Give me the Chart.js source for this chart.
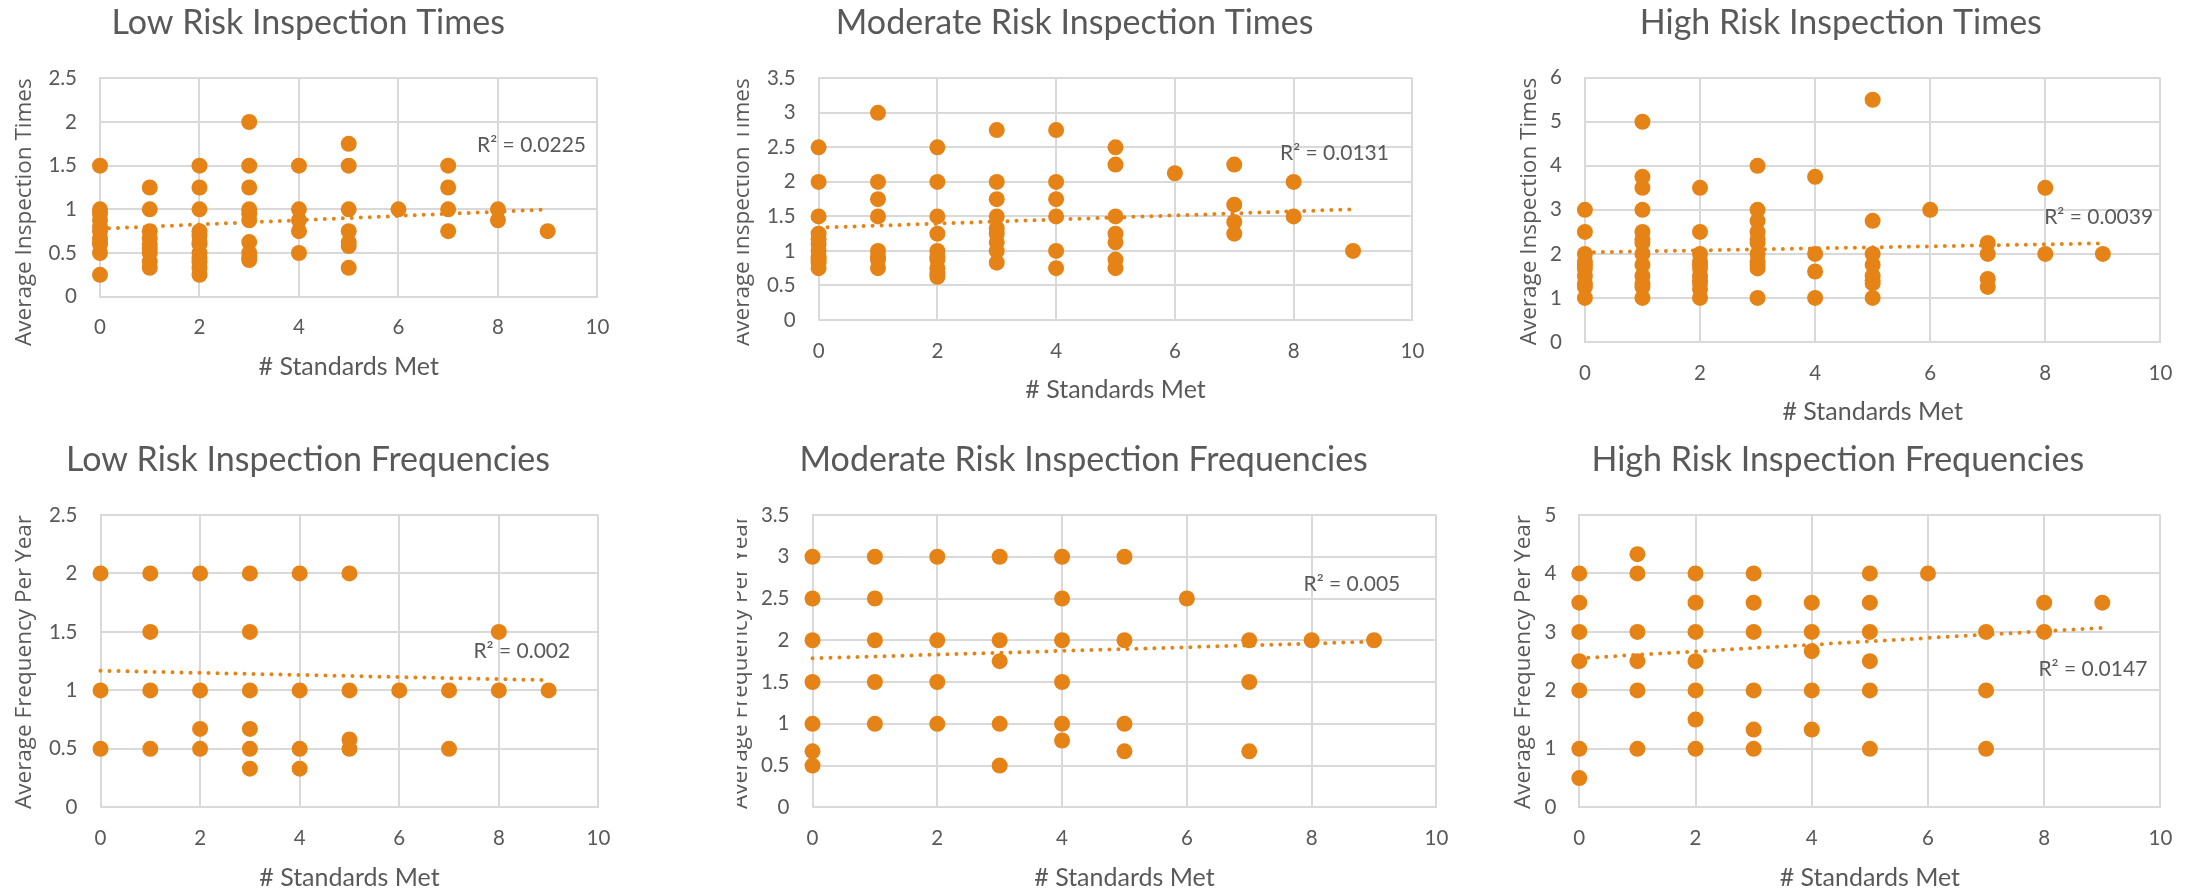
<!DOCTYPE html>
<html><head><meta charset="utf-8">
<script src="https://cdn.jsdelivr.net/npm/chart.js@4.4.1/dist/chart.umd.min.js"></script>
<style>
html,body{margin:0;padding:0;background:#fff;width:2211px;height:890px;overflow:hidden;}
.panel{position:absolute;overflow:hidden;}
.panel canvas{position:absolute;}
</style></head><body>
<script>
// ---------- DATA ----------
const standardsMet = [0, 1, 2, 3, 4, 5, 6, 7, 8, 9];
const trendX = [0, 9];

// values per column, index = # standards met
const lowRiskTimes = [
  [1.5, 1.0, 0.95, 0.875, 0.8, 0.75, 0.67, 0.625, 0.6, 0.5, 0.25],
  [1.25, 1.0, 0.75, 0.67, 0.6, 0.55, 0.5, 0.4, 0.33],
  [1.5, 1.25, 1.0, 0.75, 0.7, 0.625, 0.6, 0.5, 0.45, 0.4, 0.33, 0.25],
  [2.0, 1.5, 1.25, 1.0, 0.95, 0.875, 0.625, 0.5, 0.45, 0.42],
  [1.5, 1.0, 0.875, 0.75, 0.5],
  [1.75, 1.5, 1.0, 0.75, 0.625, 0.58, 0.33],
  [1.0],
  [1.5, 1.25, 1.0, 0.75],
  [1.0, 0.875],
  [0.75]
];
const moderateRiskTimes = [
  [2.5, 2.0, 1.5, 1.25, 1.17, 1.1, 1.0, 0.92, 0.875, 0.83, 0.75],
  [3.0, 2.0, 1.75, 1.5, 1.0, 0.92, 0.875, 0.75],
  [2.5, 2.0, 1.5, 1.25, 1.0, 0.92, 0.875, 0.75, 0.67, 0.625],
  [2.75, 2.0, 1.75, 1.5, 1.33, 1.25, 1.125, 1.0, 0.83],
  [2.75, 2.0, 1.75, 1.5, 1.0, 0.75],
  [2.5, 2.25, 1.5, 1.25, 1.125, 0.875, 0.75],
  [2.125],
  [2.25, 1.67, 1.42, 1.25],
  [2.0, 1.5],
  [1.0]
];
const highRiskTimes = [
  [3.0, 2.5, 2.0, 1.83, 1.75, 1.67, 1.5, 1.33, 1.25, 1.0],
  [5.0, 3.75, 3.5, 3.0, 2.5, 2.33, 2.25, 2.0, 1.75, 1.5, 1.33, 1.25, 1.0],
  [3.5, 2.5, 2.0, 1.83, 1.75, 1.67, 1.5, 1.4, 1.33, 1.2, 1.0],
  [4.0, 3.0, 2.75, 2.5, 2.33, 2.25, 2.0, 1.83, 1.75, 1.67, 1.0],
  [3.75, 2.0, 1.6, 1.0],
  [5.5, 2.75, 2.0, 1.75, 1.5, 1.4, 1.33, 1.0],
  [3.0],
  [2.25, 2.0, 1.43, 1.25],
  [3.5, 2.0],
  [2.0]
];
const lowRiskFrequencies = [
  [2.0, 1.0, 0.5],
  [2.0, 1.5, 1.0, 0.5],
  [2.0, 1.0, 0.67, 0.5],
  [2.0, 1.5, 1.0, 0.67, 0.5, 0.33],
  [2.0, 1.0, 0.5, 0.33],
  [2.0, 1.0, 0.58, 0.5],
  [1.0],
  [1.0, 0.5],
  [1.5, 1.0],
  [1.0]
];
const moderateRiskFrequencies = [
  [3.0, 2.5, 2.0, 1.5, 1.0, 0.67, 0.5],
  [3.0, 2.5, 2.0, 1.5, 1.0],
  [3.0, 2.0, 1.5, 1.0],
  [3.0, 2.0, 1.75, 1.0, 0.5],
  [3.0, 2.5, 2.0, 1.5, 1.0, 0.8],
  [3.0, 2.0, 1.0, 0.67],
  [2.5],
  [2.0, 1.5, 0.67],
  [2.0],
  [2.0]
];
const highRiskFrequencies = [
  [4.0, 3.5, 3.0, 2.5, 2.0, 1.0, 0.5],
  [4.33, 4.0, 3.0, 2.5, 2.0, 1.0],
  [4.0, 3.5, 3.0, 2.5, 2.0, 1.5, 1.0],
  [4.0, 3.5, 3.0, 2.0, 1.33, 1.0],
  [3.5, 3.0, 2.67, 2.0, 1.33],
  [4.0, 3.5, 3.0, 2.5, 2.0, 1.0],
  [4.0],
  [3.0, 2.0, 1.0],
  [3.5, 3.0],
  [3.5]
];

// linear trend line values at x = 0 and x = 9
const lowRiskTimesTrend = [0.778, 0.998];
const moderateRiskTimesTrend = [1.337, 1.603];
const highRiskTimesTrend = [2.035, 2.24];
const lowRiskFrequenciesTrend = [1.168, 1.087];
const moderateRiskFrequenciesTrend = [1.784, 1.983];
const highRiskFrequenciesTrend = [2.55, 3.07];

const r2Texts = ['R² = 0.0225', 'R² = 0.0131', 'R² = 0.0039', 'R² = 0.002', 'R² = 0.005', 'R² = 0.0147'];
const chartTitles = ['Low Risk Inspection Times', 'Moderate Risk Inspection Times', 'High Risk Inspection Times',
  'Low Risk Inspection Frequencies', 'Moderate Risk Inspection Frequencies', 'High Risk Inspection Frequencies'];
const yAxisTitles = ['Average Inspection Times', 'Average Inspection Times', 'Average Inspection Times',
  'Average Frequency Per Year', 'Average Frequency Per Year', 'Average Frequency Per Year'];
const xAxisTitle = '# Standards Met';
const yMaxes = [2.5, 3.5, 6, 2.5, 3.5, 5];
const yStepSizes = [0.5, 0.5, 1, 0.5, 0.5, 1];
const xMax = 10, xStepSize = 2;

const seriesList = [lowRiskTimes, moderateRiskTimes, highRiskTimes, lowRiskFrequencies, moderateRiskFrequencies, highRiskFrequencies];
const trendList = [lowRiskTimesTrend, moderateRiskTimesTrend, highRiskTimesTrend, lowRiskFrequenciesTrend, moderateRiskFrequenciesTrend, highRiskFrequenciesTrend];
// R² label anchor (data coordinates, left/middle)
const r2Anchors = [[7.58, 1.737], [7.77, 2.418], [7.98, 2.84], [7.49, 1.331], [7.87, 2.674], [7.90, 2.366]];

// ---------- LAYOUT / STYLE ----------
const ORANGE = 'rgb(230,131,22)';
const TEXT = '#595959';
const GRID = '#d9d9d9';
const TITLE_SIZE = 34, TICK_SIZE = 20.5, XT_SIZE = 25, YT_SIZE = 22.5, R2_SIZE = 21;
const panels = [
  {wrap:[0,0,737,445],    cv:[2,0,626,445],    plot:[100,614.4,78.3,296.7],   tY:23.3, xtY:367, ytX:24.5},
  {wrap:[737,0,737,445],  cv:[720,0,723,445],  plot:[818.6,1429.3,78.3,320],  tY:23.3, xtY:390, ytX:743},
  {wrap:[1474,0,737,445], cv:[1504,0,687,445], plot:[1584.9,2177.6,77.7,342], tY:23.3, xtY:412, ytX:1529.5},
  {wrap:[0,440,737,450],  cv:[1,440,628,450],  plot:[100.5,615,515,807.3],    tY:460, xtY:878, ytX:24.5},
  {wrap:[737,440,737,450],cv:[714,440,753,450],plot:[812.5,1453.4,515,807.3], tY:460, xtY:878, ytX:741},
  {wrap:[1474,440,737,450],cv:[1498,440,693,450],plot:[1579.3,2177.6,515,807.3],tY:460, xtY:878, ytX:1523.4}
];

const r2Plugin = {
  id: 'r2label',
  afterDatasetsDraw(chart, args, opts) {
    const {ctx, scales} = chart;
    ctx.save();
    ctx.font = R2_SIZE + 'px Lato';
    ctx.fillStyle = TEXT;
    ctx.textAlign = 'left';
    ctx.textBaseline = 'middle';
    ctx.fillText(opts.text, scales.x.getPixelForValue(opts.at[0]), scales.y.getPixelForValue(opts.at[1]));
    ctx.restore();
  }
};

const fmt = v => String(Math.round(v * 100) / 100);

panels.forEach((p, i) => {
  const wrap = document.createElement('div');
  wrap.className = 'panel';
  wrap.style.left = p.wrap[0] + 'px'; wrap.style.top = p.wrap[1] + 'px';
  wrap.style.width = p.wrap[2] + 'px'; wrap.style.height = p.wrap[3] + 'px';
  const cv = document.createElement('canvas');
  const [cl, ct, cw, ch] = p.cv;
  cv.width = cw; cv.height = ch;
  cv.style.width = cw + 'px'; cv.style.height = ch + 'px';
  cv.style.left = (cl - p.wrap[0]) + 'px'; cv.style.top = (ct - p.wrap[1]) + 'px';
  wrap.appendChild(cv);
  document.body.appendChild(wrap);

  const [pl, pr, pt, pb] = p.plot;
  const titlePadTop = p.tY - ct - 0.6 * TITLE_SIZE;
  const titlePadBottom = (pt - ct) - titlePadTop - 1.2 * TITLE_SIZE;
  const xScaleH = (p.xtY + XT_SIZE / 2) - pb;
  const padBottom = (ct + ch) - (p.xtY + XT_SIZE / 2);
  const yScaleW = pl - cl;
  const yTitlePad = p.ytX - cl - 0.6 * YT_SIZE;

  const points = [];
  standardsMet.forEach((x, k) => seriesList[i][k].forEach(y => points.push({x, y})));
  const trend = trendX.map((x, k) => ({x, y: trendList[i][k]}));

  new Chart(cv, {
    type: 'scatter',
    data: {
      datasets: [
        {type: 'line', data: trend, borderColor: ORANGE, borderWidth: 4, borderDash: [0, 9],
         borderCapStyle: 'round', pointRadius: 0, fill: false, clip: false, order: 0},
        {data: points, backgroundColor: ORANGE, borderWidth: 0, pointRadius: 8, pointHoverRadius: 8,
         pointBorderWidth: 0, clip: false, order: 1}
      ]
    },
    options: {
      responsive: false, animation: false, devicePixelRatio: 1,
      events: [],
      layout: {padding: {left: 0, right: (cl + cw) - pr, top: 0, bottom: padBottom}},
      plugins: {
        legend: {display: false},
        tooltip: {enabled: false},
        title: {display: true, text: chartTitles[i], color: TEXT,
                font: {family: 'Lato', size: TITLE_SIZE, weight: 'normal', lineHeight: 1.2},
                padding: {top: titlePadTop, bottom: titlePadBottom}},
        r2label: {text: r2Texts[i], at: r2Anchors[i]}
      },
      scales: {
        x: {
          type: 'linear', min: 0, max: xMax,
          ticks: {stepSize: xStepSize, color: TEXT, callback: fmt,
                  font: {family: 'Lato', size: TICK_SIZE, lineHeight: 1.2}, padding: 31 - 0.6 * TICK_SIZE},
          grid: {color: GRID, lineWidth: 2, drawTicks: false},
          border: {color: GRID, width: 2},
          title: {display: true, text: xAxisTitle, color: TEXT,
                  font: {family: 'Lato', size: XT_SIZE, lineHeight: 1}, padding: {top: 0, bottom: 0}},
          afterFit(s) { s.height = xScaleH; }
        },
        y: {
          type: 'linear', min: 0, max: yMaxes[i],
          ticks: {stepSize: yStepSizes[i], color: TEXT, callback: fmt,
                  font: {family: 'Lato', size: TICK_SIZE}, padding: 23},
          grid: {color: GRID, lineWidth: 2, drawTicks: false},
          border: {color: GRID, width: 2},
          title: {display: true, text: yAxisTitles[i], color: TEXT, align: 'end',
                  font: {family: 'Open Sans', size: YT_SIZE, lineHeight: 1.2}, padding: {top: yTitlePad, bottom: 0}},
          afterFit(s) { s.width = yScaleW; }
        }
      }
    },
    plugins: [r2Plugin]
  });
});
</script>
</body></html>
